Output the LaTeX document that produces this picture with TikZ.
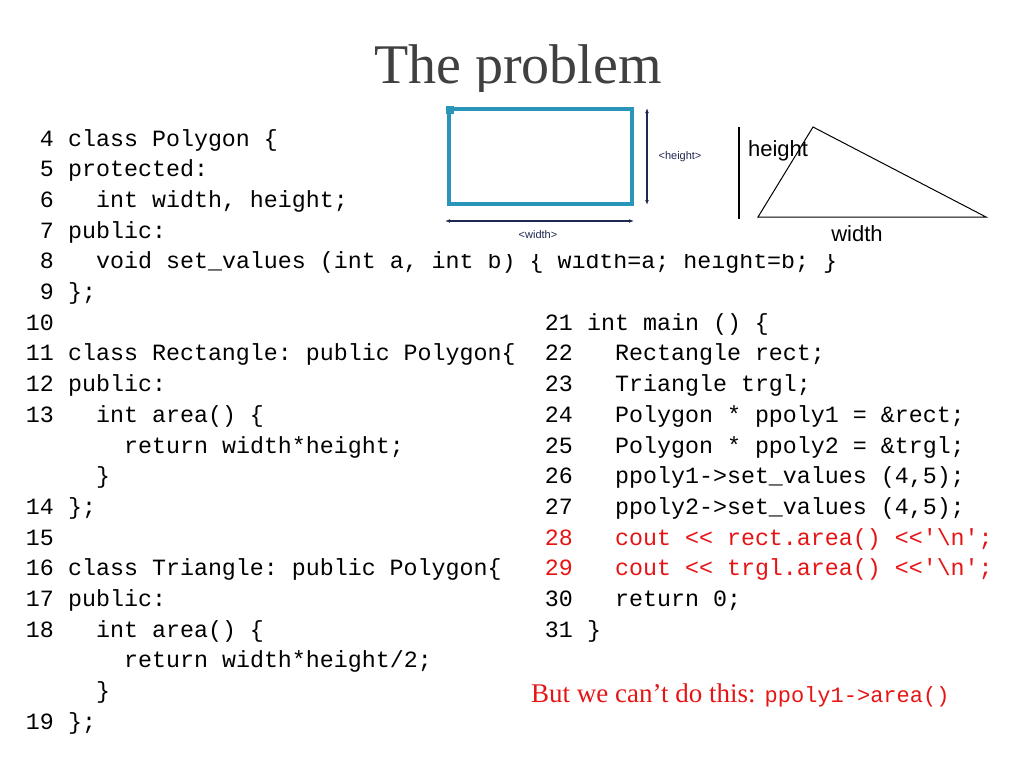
\documentclass[tikz,border=0pt]{standalone}
\usepackage{fontspec}
\setmainfont{Liberation Serif}
\setsansfont{Liberation Sans}
\setmonofont{Liberation Mono}
\usetikzlibrary{arrows.meta}
\definecolor{rectblue}{RGB}{41,150,185}
\definecolor{navy}{RGB}{30,40,80}
\definecolor{codered}{RGB}{230,20,20}
\definecolor{titlegray}{RGB}{64,64,64}

% one line of code: name, x of text, row, number, indent, text
\newcommand{\codeline}[6]{%
  \node[num] (n#1) at (#2-14,146+30.7*#3) {#4};
  \node[code] (c#1) at (#2+28*#5,146+30.7*#3) {#6};}

\begin{document}
\begin{tikzpicture}[
    x=1pt, y=-1pt,
    num/.style={anchor=base east, inner sep=0pt, font=\fontsize{23.3}{26}\ttfamily},
    code/.style={anchor=base west, inner sep=0pt, font=\fontsize{23.3}{26}\ttfamily},
    dim/.style={navy, line width=1.6pt, {Latex[length=5pt]}-{Latex[length=5pt]}},
    tag/.style={navy, font=\fontsize{11}{12}\sffamily}
]
    \useasboundingbox (0,0) rectangle (1024,768);
    \node[titlegray, font=\fontsize{56}{60}\selectfont] (title) at (518,70) {The problem};

    % left column
    \codeline{4}{68}{0}{4}{0}{class Polygon \{}
    \codeline{5}{68}{1}{5}{0}{protected:}
    \codeline{6}{68}{2}{6}{1}{int width, height;}
    \codeline{7}{68}{3}{7}{0}{public:}
    \codeline{8}{68}{4}{8}{1}{void set\_values (int a, int b) \{ width=a; height=b; \}}
    \codeline{9}{68}{5}{9}{0}{\};}
    \codeline{10}{68}{6}{10}{0}{}
    \codeline{11}{68}{7}{11}{0}{class Rectangle: public Polygon\{}
    \codeline{12}{68}{8}{12}{0}{public:}
    \codeline{13}{68}{9}{13}{1}{int area() \{}
    \codeline{13a}{68}{10}{}{2}{return width*height;}
    \codeline{13b}{68}{11}{}{1}{\}}
    \codeline{14}{68}{12}{14}{0}{\};}
    \codeline{15}{68}{13}{15}{0}{}
    \codeline{16}{68}{14}{16}{0}{class Triangle: public Polygon\{}
    \codeline{17}{68}{15}{17}{0}{public:}
    \codeline{18}{68}{16}{18}{1}{int area() \{}
    \codeline{18a}{68}{17}{}{2}{return width*height/2;}
    \codeline{18b}{68}{18}{}{1}{\}}
    \codeline{19}{68}{19}{19}{0}{\};}

    % right column
    \codeline{21}{587}{6}{21}{0}{int main () \{}
    \codeline{22}{587}{7}{22}{1}{Rectangle rect;}
    \codeline{23}{587}{8}{23}{1}{Triangle trgl;}
    \codeline{24}{587}{9}{24}{1}{Polygon * ppoly1 = \&rect;}
    \codeline{25}{587}{10}{25}{1}{Polygon * ppoly2 = \&trgl;}
    \codeline{26}{587}{11}{26}{1}{ppoly1->set\_values (4,5);}
    \codeline{27}{587}{12}{27}{1}{ppoly2->set\_values (4,5);}
    \begin{scope}[every node/.append style={codered}]
    \codeline{28}{587}{13}{28}{1}{cout << rect.area() <<'\textbackslash n';}
    \codeline{29}{587}{14}{29}{1}{cout << trgl.area() <<'\textbackslash n';}
    \end{scope}
    \codeline{30}{587}{15}{30}{1}{return 0;}
    \codeline{31}{587}{16}{31}{0}{\}}

    \node[anchor=base west, inner sep=0pt, codered, font=\fontsize{27}{30}\selectfont] (note) at (531,702)
      {But we can't do this: {\fontsize{22}{26}\ttfamily ppoly1->area()}};

    % pictures pasted over the code
    \fill[white] (440,92) rectangle (1000,254);
    \draw[rectblue, line width=3.5pt] (449,109) rectangle (632,204);
    \fill[rectblue] (446,106) rectangle (454,114);
    \coordinate (ht) at (647,108);
    \coordinate (hb) at (647,205);
    \draw[dim] (ht) -- (hb);
    \coordinate (wl) at (445,221);
    \coordinate (wr) at (634,221);
    \draw[dim] (wl) -- (wr);
    \node[tag] (hlabel) at (680,157) {<height>};
    \node[tag] (wlabel) at (538,235) {<width>};

    \draw[line width=1.8pt] (739,127) -- (739,219);
    \coordinate (ta) at (758,217);
    \coordinate (tb) at (813,127);
    \coordinate (tc) at (986,217);
    \draw[line width=1pt] (ta) -- (tb) -- (tc) -- cycle;
    \node[font=\fontsize{22}{24}\sffamily] (hword) at (778,151) {height};
    \node[font=\fontsize{22}{24}\sffamily] (wword) at (857,234) {width};
\end{tikzpicture}
\end{document}
